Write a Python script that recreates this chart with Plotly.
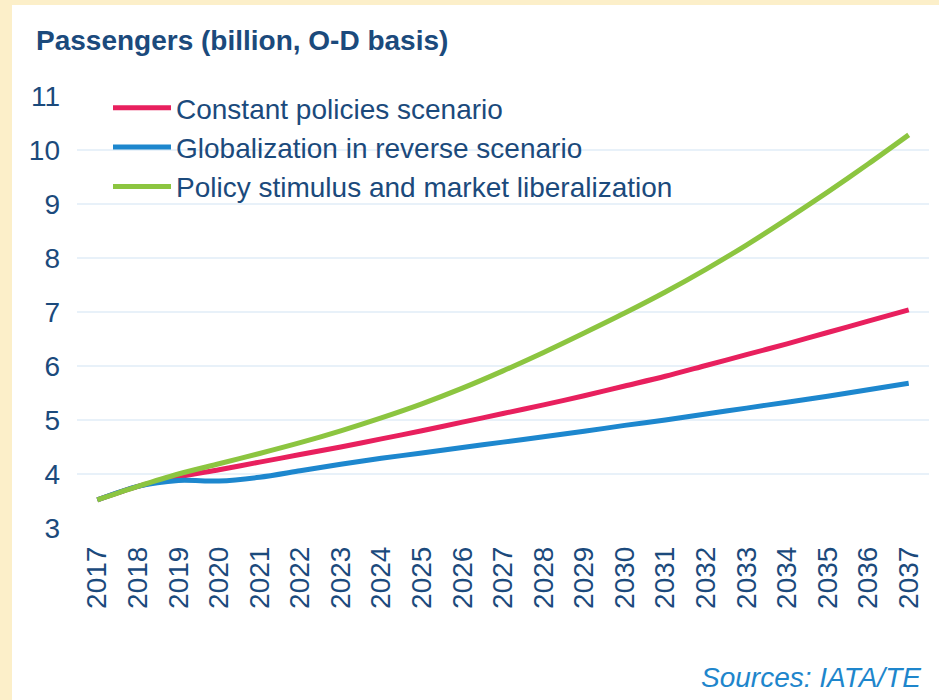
import plotly.graph_objects as go

# Years on the horizontal axis
years = [str(y) for y in range(2017, 2038)]

# Passengers, billions (O-D basis), by scenario
constant_policies = [3.52, 3.77, 3.95, 4.08, 4.22, 4.36, 4.50, 4.65, 4.80, 4.96,
                     5.12, 5.28, 5.45, 5.63, 5.81, 6.01, 6.21, 6.41, 6.62, 6.83, 7.04]
globalization_reverse = [3.52, 3.77, 3.88, 3.87, 3.94, 4.06, 4.18, 4.29, 4.39, 4.49,
                         4.59, 4.69, 4.79, 4.90, 5.00, 5.11, 5.22, 5.33, 5.44, 5.56, 5.68]
policy_stimulus = [3.52, 3.77, 4.00, 4.19, 4.38, 4.58, 4.80, 5.04, 5.30, 5.59,
                   5.91, 6.25, 6.61, 6.98, 7.37, 7.79, 8.24, 8.72, 9.22, 9.74, 10.28]

series_names = ["Constant policies scenario",
                "Globalization in reverse scenario",
                "Policy stimulus and market liberalization"]
series_values = [constant_policies, globalization_reverse, policy_stimulus]
series_colors = ["#E8205E", "#1D87CE", "#8CC540"]

y_ticks = list(range(3, 12))

FONT = "Liberation Sans, Arial, sans-serif"
DARK = "#1B4A7C"
FS = 28

fig = go.Figure()
for name, vals, col in zip(series_names, series_values, series_colors):
    fig.add_trace(go.Scatter(
        x=years, y=vals, name=name, mode="lines",
        line=dict(color=col, width=5, shape="spline", smoothing=0.8),
    ))

W, H = 939, 700
ml, mr, mt, mb = 77, 10, 96, 172
pw, ph = W - ml - mr, H - mt - mb


def px_x(px):
    return (px - ml) / pw


def px_y(py):
    return (H - mb - py) / ph


fig.update_layout(
    width=W, height=H,
    margin=dict(l=ml, r=mr, t=mt, b=mb),
    paper_bgcolor="#FCEFC9",
    plot_bgcolor="rgba(0,0,0,0)",
    font=dict(family=FONT, size=FS, color=DARK),
    showlegend=True,
    legend=dict(
        x=px_x(108), y=px_y(83), xanchor="left", yanchor="top",
        bgcolor="rgba(0,0,0,0)", borderwidth=0,
        font=dict(family=FONT, size=FS, color=DARK),
        itemwidth=58, tracegroupgap=0,
    ),
    xaxis=dict(
        type="category", range=[-0.5, len(years) - 0.5],
        showgrid=False, zeroline=False, showline=False,
        ticks="", tickangle=-90, ticklabelstandoff=12,
        tickfont=dict(family=FONT, size=FS, color=DARK),
    ),
    yaxis=dict(
        range=[3, 11], tickvals=y_ticks,
        showgrid=True, gridcolor="#E8F1F9", gridwidth=2,
        zeroline=False, showline=False, ticks="", ticklabelstandoff=16,
        tickfont=dict(family=FONT, size=FS, color=DARK),
    ),
    shapes=[dict(
        type="rect", xref="paper", yref="paper", layer="below",
        x0=px_x(12), x1=px_x(W + 5), y0=px_y(H + 5), y1=px_y(5),
        fillcolor="white", line=dict(width=0),
    )],
    annotations=[
        dict(text="<b>Passengers (billion, O-D basis)</b>", xref="paper", yref="paper",
             x=px_x(34), y=px_y(40), xanchor="left", yanchor="middle", showarrow=False,
             font=dict(family=FONT, size=FS, color=DARK)),
        dict(text="<i>Sources: IATA/TE</i>", xref="paper", yref="paper",
             x=px_x(923), y=px_y(677), xanchor="right", yanchor="middle", showarrow=False,
             font=dict(family=FONT, size=FS, color="#1E86CC")),
    ],
)

fig.write_html("out.html")
